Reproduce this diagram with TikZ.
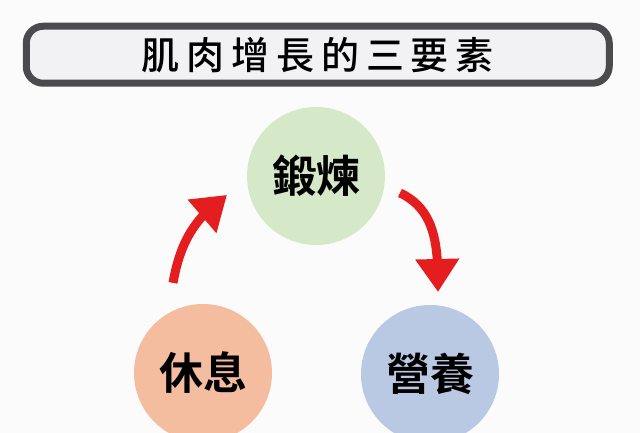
\documentclass[tikz,border=0pt]{standalone}
\usepackage{fontspec}
\newfontfamily\cjk{Noto Sans CJK TC Bold}
\newfontfamily\cjktitle[LetterSpace=18]{Noto Sans CJK TC Medium}
\usetikzlibrary{arrows.meta,bending,positioning}
\definecolor{paper}{HTML}{FBFBFB}
\definecolor{frame}{HTML}{4B4B4D}
\definecolor{framefill}{HTML}{F2F2F4}
\definecolor{leaf}{HTML}{D5E9C9}
\definecolor{peach}{HTML}{F5BD9F}
\definecolor{sky}{HTML}{BAC9E3}
\definecolor{arrowred}{HTML}{E41E1E}
\tikzset{
    heading/.style ={
        shape=rectangle,
        rounded corners=17pt,
        draw=frame,
        line width=7pt,
        fill=framefill,
        minimum width=583pt,
        minimum height=57pt,
        inner sep=0pt,
        font=\cjktitle\fontsize{38pt}{40pt}\selectfont
    },
    ball/.style ={
        shape=circle,
        minimum size=138pt,
        inner sep=0pt,
        font=\cjk\fontsize{44pt}{46pt}\selectfont
    },
    greenball/.style ={ball, fill=leaf},
    peachball/.style ={ball, fill=peach},
    blueball/.style ={ball, fill=sky},
    redarrow/.style ={
        draw=arrowred,
        line width=9pt,
        -{Triangle[length=33pt,width=42pt,flex]}
    }
}
\begin{document}
\begin{tikzpicture}[x=1pt,y=1pt]
    \fill[paper] (0,0) rectangle (640,433);
    \useasboundingbox (0,0) rectangle (640,433);
    \node[heading] (title) at (317.75,378.25) {肌肉增長的三要素};
    \node[greenball] (train) at (316,257) {鍛煉};
    \node[peachball] (rest) at (203,60) {休息};
    \node[blueball] (food) at (430,59) {營養};
    % arrow ends just off the circles
    \coordinate (restout) at ([shift={(108.4:95)}]rest.center);
    \coordinate (trainin) at ([shift={(192:91)}]train.center);
    \coordinate (trainout) at ([shift={(-11.4:85.7)}]train.center);
    \coordinate (foodin) at ([shift={(84.4:82.4)}]food.center);
    % the cycle
    \draw[redarrow] (restout) to[out=80, in=215] (trainin);
    \draw[redarrow] (trainout) to[out=-25, in=90] (foodin);
\end{tikzpicture}
\end{document}
